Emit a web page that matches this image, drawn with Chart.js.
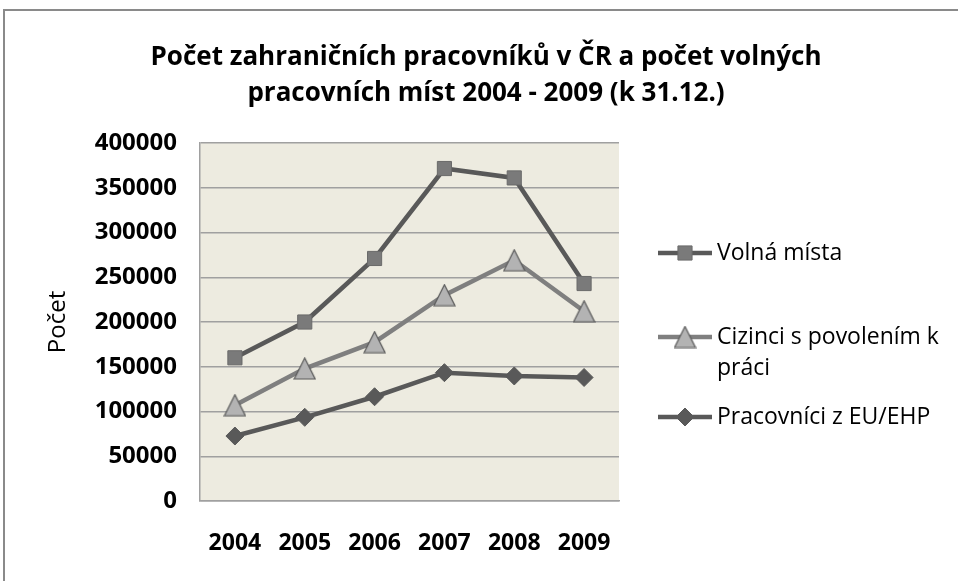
<!DOCTYPE html>
<html>
<head>
<meta charset="utf-8">
<script src="https://cdn.jsdelivr.net/npm/chart.js@4.4.1/dist/chart.umd.min.js"></script>
<style>
  html, body { margin: 0; padding: 0; background: #fff; }
  #wrap { position: relative; width: 958px; height: 581px; }
</style>
</head>
<body>
<div id="wrap"><canvas id="c" width="958" height="581"></canvas></div>
<script>
const categories = ['2004', '2005', '2006', '2007', '2008', '2009'];
const volnaMista = [160000, 200000, 271000, 371500, 361000, 243000];
const cizinci = [107000, 148000, 177500, 230000, 269000, 212000];
const pracovniciEU = [72600, 93500, 116500, 143400, 139700, 138000];
const seriesNames = ['Volná místa', 'Cizinci s povolením k práci', 'Pracovníci z EU/EHP'];
const legendLines = [['Volná místa'], ['Cizinci s povolením k', 'práci'], ['Pracovníci z EU/EHP']];
const titleLines = ['Počet zahraničních pracovníků v ČR a počet volných', 'pracovních míst 2004 - 2009 (k 31.12.)'];
const yTitle = 'Počet';
const yMin = 0, yMax = 400000, yStep = 50000;

const FONT = "'Open Sans', 'DejaVu Sans', sans-serif";

// isosceles triangle marker (Excel-like)
function makeTriangle(w, h, fill, stroke) {
  const c = document.createElement('canvas');
  c.width = w + 2; c.height = h + 2;
  const g = c.getContext('2d');
  g.beginPath();
  g.moveTo(1, h + 1);
  g.lineTo(w / 2 + 1, 1);
  g.lineTo(w + 1, h + 1);
  g.closePath();
  g.fillStyle = fill; g.fill();
  g.lineWidth = 1.2; g.strokeStyle = stroke; g.stroke();
  return c;
}
const triImg = makeTriangle(21, 21, '#b3b3b3', '#5a5a5a');

const bgPlugin = {
  id: 'bgPlugin',
  beforeDraw(chart) {
    const { ctx, chartArea: a } = chart;
    ctx.save();
    ctx.fillStyle = '#fff';
    ctx.fillRect(0, 0, chart.width, chart.height);
    ctx.fillStyle = '#EDEBE0';
    ctx.fillRect(a.left, a.top, a.right - a.left, a.bottom - a.top);
    // outer frame
    ctx.strokeStyle = '#8a8a8a';
    ctx.lineWidth = 2;
    ctx.beginPath();
    ctx.moveTo(4, chart.height);
    ctx.lineTo(4, 10);
    ctx.lineTo(chart.width, 10);
    ctx.stroke();
    ctx.restore();
  }
};

const legendPlugin = {
  id: 'customLegend',
  afterDraw(chart) {
    const { ctx, chartArea: a } = chart;
    const x0 = a.right + 39, x1 = a.right + 93, tx = a.right + 98;
    const ys = [253, 337, 417];
    ctx.save();
    chart.data.datasets.forEach((ds, i) => {
      const y = ys[i];
      const cx = (x0 + x1) / 2;
      ctx.strokeStyle = ds.borderColor;
      ctx.lineWidth = ds.borderWidth;
      ctx.beginPath(); ctx.moveTo(x0, y); ctx.lineTo(x1, y); ctx.stroke();
      ctx.fillStyle = ds.pointBackgroundColor;
      ctx.strokeStyle = ds.pointBorderColor;
      ctx.lineWidth = ds.pointBorderWidth;
      if (typeof ds.pointStyle === 'string') {
        ctx.beginPath();
        const r = ds.pointRadius;
        if (ds.pointStyle === 'rect') {
          const s = Math.SQRT1_2 * r;
          ctx.rect(cx - s, y - s, 2 * s, 2 * s);
        } else if (ds.pointStyle === 'rectRot') {
          ctx.moveTo(cx, y - r); ctx.lineTo(cx + r, y); ctx.lineTo(cx, y + r); ctx.lineTo(cx - r, y); ctx.closePath();
        }
        ctx.fill(); ctx.stroke();
      } else {
        const img = ds.pointStyle;
        ctx.drawImage(img, cx - img.width / 2, y - img.height / 2);
      }
      ctx.fillStyle = '#000';
      ctx.font = '23px ' + FONT;
      ctx.textAlign = 'left';
      ctx.textBaseline = 'middle';
      legendLines[i].forEach((t, k) => ctx.fillText(t, tx, y + k * 31));
    });
    ctx.restore();
  }
};

new Chart(document.getElementById('c'), {
  type: 'line',
  data: {
    labels: categories,
    datasets: [
      {
        label: seriesNames[0], data: volnaMista,
        borderColor: '#595959', borderWidth: 4.5,
        pointStyle: 'rect', pointRadius: 10, pointHoverRadius: 10,
        pointBackgroundColor: '#7a7a7a', pointBorderColor: '#6a6a6a', pointBorderWidth: 1,
        tension: 0
      },
      {
        label: seriesNames[1], data: cizinci,
        borderColor: '#7f7f7f', borderWidth: 4.5,
        pointStyle: triImg, pointRadius: 11, pointHoverRadius: 11,
        pointBackgroundColor: '#b3b3b3', pointBorderColor: '#5a5a5a', pointBorderWidth: 1,
        tension: 0
      },
      {
        label: seriesNames[2], data: pracovniciEU,
        borderColor: '#595959', borderWidth: 4.5,
        pointStyle: 'rectRot', pointRadius: 9, pointHoverRadius: 9,
        pointBackgroundColor: '#595959', pointBorderColor: '#595959', pointBorderWidth: 1,
        tension: 0
      }
    ]
  },
  options: {
    responsive: false,
    animation: false,
    events: [],
    layout: { padding: { left: 14, right: 0, top: 0, bottom: 23 } },
    plugins: {
      legend: { display: false },
      tooltip: { enabled: false },
      title: {
        display: true,
        text: titleLines,
        color: '#000',
        font: { family: FONT, size: 26, weight: 'bold', lineHeight: 1.385 },
        padding: { top: 40, bottom: 31 }
      }
    },
    scales: {
      x: {
        offset: true,
        afterFit(scale) { scale.height = 57; },
        grid: { display: false, drawTicks: false },
        border: { display: true, color: '#a0a0a0', width: 1.5 },
        ticks: { color: '#000', font: { family: FONT, size: 23, weight: 'bold' }, padding: 29, maxRotation: 0, autoSkip: false }
      },
      y: {
        min: yMin, max: yMax,
        afterFit(scale) { scale.width = 186; },
        grid: { color: '#a0a0a0', lineWidth: 1.5, drawTicks: false },
        border: { display: true, color: '#a0a0a0', width: 1.5 },
        ticks: {
          stepSize: yStep, color: '#000', padding: 23,
          font: { family: FONT, size: 24, weight: 'bold' },
          callback: (v) => String(v)
        },
        title: {
          display: true, text: yTitle, color: '#000',
          font: { family: FONT, size: 24, weight: 'normal' },
          padding: { top: 30, bottom: 0 }
        }
      },
      legendSpace: {
        type: 'linear', position: 'right', min: 0, max: 1,
        afterFit(scale) { scale.width = 339; },
        grid: { display: false, drawTicks: false },
        border: { display: false },
        ticks: { display: false }
      }
    }
  },
  plugins: [bgPlugin, legendPlugin]
});
</script>
</body>
</html>
